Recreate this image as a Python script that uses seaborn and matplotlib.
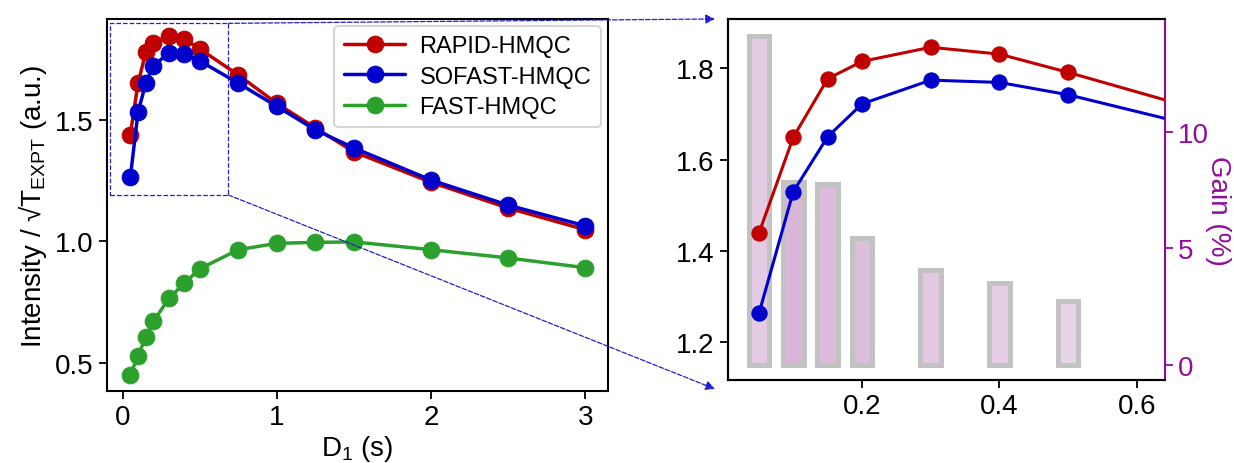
import numpy as np
import pandas as pd
import seaborn as sns
import matplotlib.pyplot as plt
from matplotlib.patches import Rectangle, ConnectionPatch

# recycle delay D1 (s)
d1 = [0.05, 0.1, 0.15, 0.2, 0.3, 0.4, 0.5, 0.75, 1.0, 1.25, 1.5, 2.0, 2.5, 3.0]
rapid = [1.439, 1.649, 1.777, 1.815, 1.846, 1.831, 1.791, 1.684, 1.567, 1.466, 1.368, 1.243, 1.137, 1.048]
sofast = [1.263, 1.530, 1.650, 1.722, 1.774, 1.769, 1.742, 1.650, 1.555, 1.458, 1.384, 1.252, 1.149, 1.064]
fast = [0.452, 0.530, 0.606, 0.671, 0.766, 0.828, 0.887, 0.966, 0.992, 0.996, 0.998, 0.966, 0.932, 0.892]

gain_x = [0.05, 0.1, 0.15, 0.2, 0.3, 0.4, 0.5]
gain = [14.1, 7.86, 7.76, 5.46, 4.09, 3.51, 2.76]
bar_fill = ['#e4cbe4', '#d9b6d9', '#dcbcdc', '#ddbfdd', '#e2c8e2', '#e5cde5', '#e8d4e8']

series = [('RAPID-HMQC', rapid, '#c00000'),
          ('SOFAST-HMQC', sofast, '#0000cc'),
          ('FAST-HMQC', fast, '#2ca02c')]

sns.set_style("ticks")
plt.rcParams['font.family'] = ['Liberation Sans', 'DejaVu Sans']
plt.rcParams['mathtext.fontset'] = 'custom'
plt.rcParams['mathtext.rm'] = 'Liberation Sans'
for k in ['text.color', 'axes.labelcolor', 'xtick.color', 'ytick.color', 'axes.edgecolor']:
    plt.rcParams[k] = 'black'
purple = '#900c9c'

fig = plt.figure(figsize=(12.34, 4.64), dpi=100)
ax1 = fig.add_axes([0.0866, 0.155, 0.4059, 0.802])
ax3 = fig.add_axes([0.5897, 0.1795, 0.3544, 0.7775])

# left panel: full curves
for name, vals, col in series:
    sns.lineplot(x=d1, y=vals, ax=ax1, color=col, marker='o', markersize=12,
                 markeredgecolor=col, linewidth=2.5, label=name)

ax1.set_xlim(-0.102, 3.146)
ax1.set_ylim(0.385, 1.914)
ax1.set_xticks([0, 1, 2, 3])
ax1.set_yticks([0.5, 1.0, 1.5])
ax1.set_xlabel('D$_\\mathregular{1}$ (s)', fontsize=20, labelpad=2)
ax1.set_ylabel('Intensity / \u221aT$_\\mathregular{EXPT}$ (a.u.)', fontsize=20, labelpad=4)
ax1.tick_params(labelsize=20, length=6, width=1.3)
for s in ax1.spines.values():
    s.set_linewidth(1.5)
leg = ax1.legend(loc='upper right', fontsize=17, frameon=True, handlelength=2.6,
                 borderaxespad=0.3, labelspacing=0.35, borderpad=0.4, handletextpad=0.6)
leg.get_frame().set_edgecolor('#cccccc')
leg.get_frame().set_linewidth(1.5)

# zoom box
ax1.add_patch(Rectangle((-0.082, 1.191), 0.767, 0.705, fill=False, edgecolor='#2020cc',
                        linestyle='--', linewidth=0.9, zorder=1))

# right panel: zoom with gain bars on twin axis
ax4 = ax3.twinx()
bar_df = pd.DataFrame({'x': gain_x, 'gain': gain})
sns.barplot(data=bar_df, x='x', y='gain', hue='x', palette=bar_fill, native_scale=True,
            width=0.6, saturation=1, errorbar=None, legend=False, ax=ax4,
            edgecolor='#c2c2c2', linewidth=3.6)
ax3.set_zorder(ax4.get_zorder() + 1)
ax3.patch.set_visible(False)

for name, vals, col in series[:2]:
    sns.lineplot(x=d1, y=vals, ax=ax3, color=col, marker='o', markersize=11,
                 markeredgecolor=col, linewidth=2.2)

ax3.set_xlim(0.0045, 0.641)
ax3.set_ylim(1.118, 1.908)
ax3.set_xticks([0.2, 0.4, 0.6])
ax3.set_yticks([1.2, 1.4, 1.6, 1.8])
ax3.tick_params(labelsize=20, length=6, width=1.3)
ax4.set_xlim(0.0045, 0.641)
ax4.set_ylim(-0.63, 14.83)
ax4.set_yticks([0, 5, 10])
ax4.set_xlabel('')
ax4.set_ylabel('Gain (%)', fontsize=20, color=purple, rotation=270)
ax4.yaxis.set_label_coords(1.15, 0.47)
ax4.tick_params(axis='y', labelsize=20, length=6, width=1.3, colors=purple)
for s in ax3.spines.values():
    s.set_linewidth(1.5)
for s in ax4.spines.values():
    s.set_linewidth(1.5)
ax4.spines['right'].set_color(purple)
ax3.spines['right'].set_visible(False)
ax3.set_xlabel('')

# connectors between panels
for yA, yB in [(1.896, 0.957), (1.191, 0.1595)]:
    con = ConnectionPatch(xyA=(0.685, yA), coordsA=ax1.transData,
                          xyB=(0.5794, yB), coordsB=fig.transFigure,
                          arrowstyle='-|>', linestyle='--', color='#2020cc',
                          linewidth=0.9, mutation_scale=14)
    fig.add_artist(con)

fig.savefig('out.png', dpi=100)
